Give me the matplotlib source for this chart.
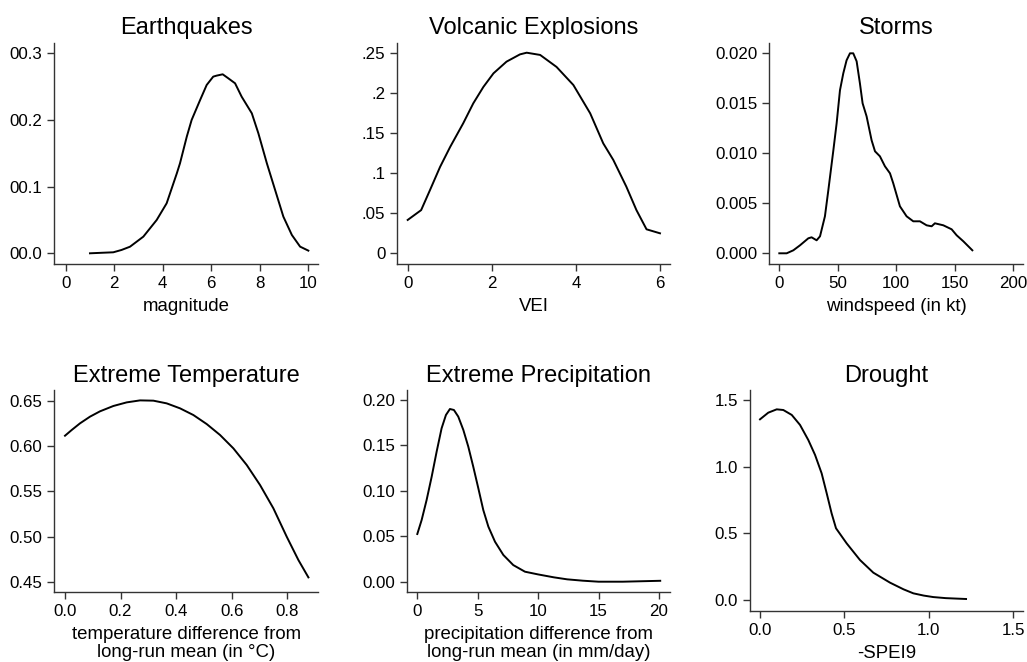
import matplotlib
matplotlib.use("Agg")
import matplotlib.pyplot as plt

plt.rcParams['font.family'] = ['Liberation Sans', 'DejaVu Sans']

# Earthquakes
eq_x = [1.0, 1.5, 1.96, 2.3, 2.65, 3.2, 3.75, 4.16, 4.58, 4.71, 4.99, 5.19, 5.54, 5.81, 6.08, 6.22, 6.47, 6.7, 6.98, 7.25, 7.67, 7.94, 8.29, 8.63, 8.97, 9.32, 9.66, 10.0]
eq_y = [0.0, 0.0008, 0.0015, 0.005, 0.0099, 0.025, 0.05, 0.075, 0.12, 0.135, 0.175, 0.2, 0.23, 0.2525, 0.265, 0.2665, 0.2685, 0.2625, 0.255, 0.235, 0.21, 0.18, 0.135, 0.095, 0.055, 0.0275, 0.01, 0.004]

# Volcanic explosions
vei_x = [0.0, 0.32, 0.53, 0.77, 1.01, 1.32, 1.56, 1.8, 2.04, 2.35, 2.67, 2.83, 3.15, 3.54, 3.94, 4.34, 4.65, 4.89, 5.2, 5.44, 5.68, 6.0]
vei_y = [0.0417, 0.054, 0.079, 0.108, 0.133, 0.1625, 0.1875, 0.208, 0.225, 0.2396, 0.2487, 0.2508, 0.248, 0.233, 0.2104, 0.175, 0.1375, 0.1167, 0.0833, 0.054, 0.03, 0.025]

# Storms
st_x = [0, 6.3, 12, 17.7, 24.8, 27.6, 31.9, 34.8, 39, 41.9, 46.2, 49, 51.85, 54.7, 57.5, 60.4, 63.2, 66.1, 68.9, 71.2, 74.6, 78.9, 81.8, 86, 90.3, 94.6, 97.4, 103.1, 108.8, 114.5, 120.2, 125.9, 130.2, 133, 140.2, 147.3, 151.6, 157.3, 165]
st_y = [0, 0, 0.0003, 0.0008, 0.0015, 0.0016, 0.0013, 0.0017, 0.0037, 0.0063, 0.0103, 0.013, 0.0163, 0.018, 0.0193, 0.02, 0.02, 0.0192, 0.017, 0.015, 0.0137, 0.0113, 0.0102, 0.0097, 0.0087, 0.008, 0.007, 0.0047, 0.0037, 0.0032, 0.0032, 0.0028, 0.0027, 0.003, 0.0028, 0.0024, 0.0018, 0.0012, 0.0003]

# Extreme temperature
tp_x = [0, 0.024, 0.054, 0.09, 0.126, 0.174, 0.222, 0.27, 0.318, 0.366, 0.414, 0.462, 0.51, 0.558, 0.606, 0.654, 0.702, 0.75, 0.798, 0.84, 0.876]
tp_y = [0.6116, 0.6179, 0.6253, 0.6327, 0.6386, 0.6445, 0.6485, 0.6507, 0.6504, 0.6474, 0.6419, 0.6345, 0.6245, 0.6124, 0.5976, 0.5792, 0.557, 0.5312, 0.4998, 0.474, 0.4548]

# Extreme precipitation
pr_x = [0, 0.36, 0.77, 1.19, 1.6, 2.01, 2.37, 2.7, 3.03, 3.39, 3.81, 4.22, 4.63, 5.05, 5.46, 5.88, 6.43, 7.12, 7.94, 8.91, 10.0, 11.3, 12.4, 13.7, 15, 17, 20.1]
pr_y = [0.0525, 0.0679, 0.0899, 0.1156, 0.1431, 0.1688, 0.1835, 0.1901, 0.189, 0.1817, 0.167, 0.1486, 0.1266, 0.1028, 0.0789, 0.0606, 0.044, 0.0294, 0.0183, 0.011, 0.008, 0.0048, 0.0026, 0.0011, 0.0, 0.0, 0.001]

# Drought
dr_x = [0, 0.049, 0.099, 0.138, 0.188, 0.237, 0.286, 0.326, 0.365, 0.395, 0.424, 0.45, 0.513, 0.592, 0.671, 0.77, 0.85, 0.908, 0.97, 1.026, 1.1, 1.22]
dr_y = [1.355, 1.405, 1.43, 1.425, 1.388, 1.313, 1.2, 1.088, 0.95, 0.8, 0.65, 0.538, 0.425, 0.3, 0.205, 0.13, 0.08, 0.05, 0.033, 0.022, 0.014, 0.0075]

panels = [
    dict(title="Earthquakes", x=eq_x, y=eq_y, xlabel="magnitude",
         xticks=[0, 2, 4, 6, 8, 10], xtl=["0", "2", "4", "6", "8", "10"],
         yticks=[0, 0.1, 0.2, 0.3], ytl=["00.0", "00.1", "00.2", "00.3"],
         box=(54.3, 318.3, 42.7, 264.3), xlim=(-0.47, 10.41), ylim=(-0.0165, 0.3159)),
    dict(title="Volcanic Explosions", x=vei_x, y=vei_y, xlabel="VEI",
         xticks=[0, 2, 4, 6], xtl=["0", "2", "4", "6"],
         yticks=[0, 0.05, 0.1, 0.15, 0.2, 0.25], ytl=["0", ".05", ".1", ".15", ".2", ".25"],
         box=(397.3, 670, 42.7, 264.3), xlim=(-0.247, 6.238), ylim=(-0.01375, 0.2633)),
    dict(title="Storms", x=st_x, y=st_y, xlabel="windspeed (in kt)",
         xticks=[0, 50, 100, 150, 200], xtl=["0", "50", "100", "150", "200"],
         yticks=[0, 0.005, 0.01, 0.015, 0.02], ytl=["0.000", "0.005", "0.010", "0.015", "0.020"],
         box=(769.3, 1023, 42.7, 264.3), xlim=(-8.55, 208.3), ylim=(-0.0011, 0.02106)),
    dict(title="Extreme Temperature", x=tp_x, y=tp_y, xlabel="temperature difference from\nlong-run mean (in \u00b0C)",
         xticks=[0, 0.2, 0.4, 0.6, 0.8], xtl=["0.0", "0.2", "0.4", "0.6", "0.8"],
         yticks=[0.45, 0.5, 0.55, 0.6, 0.65], ytl=["0.45", "0.50", "0.55", "0.60", "0.65"],
         box=(54.3, 318.3, 390, 592.3), xlim=(-0.0385, 0.9116), ylim=(0.4383, 0.6622)),
    dict(title="Extreme Precipitation", x=pr_x, y=pr_y, xlabel="precipitation difference from\nlong-run mean (in mm/day)",
         xticks=[0, 5, 10, 15, 20], xtl=["0", "5", "10", "15", "20"],
         yticks=[0, 0.05, 0.1, 0.15, 0.2], ytl=["0.00", "0.05", "0.10", "0.15", "0.20"],
         box=(406.7, 670, 390, 592.3), xlim=(-0.877, 20.91), ylim=(-0.01167, 0.211)),
    dict(title="Drought", x=dr_x, y=dr_y, xlabel="-SPEI9",
         xticks=[0, 0.5, 1.0, 1.5], xtl=["0.0", "0.5", "1.0", "1.5"],
         yticks=[0, 0.5, 1.0, 1.5], ytl=["0.0", "0.5", "1.0", "1.5"],
         box=(750, 1023.3, 390, 611), xlim=(-0.0592, 1.559), ylim=(-0.0825, 1.575)),
]

W, H = 1027, 662
fig = plt.figure(figsize=(W / 100, H / 100), dpi=100)

for p in panels:
    l, r, t, b = p["box"]
    ax = fig.add_axes([l / W, 1 - b / H, (r - l) / W, (b - t) / H])
    ax.plot(p["x"], p["y"], color="black", lw=1.4)
    ax.set_xlim(p["xlim"])
    ax.set_ylim(p["ylim"])
    ax.set_xticks(p["xticks"])
    ax.set_xticklabels(p["xtl"])
    ax.set_yticks(p["yticks"])
    ax.set_yticklabels(p["ytl"])
    for s in ["top", "right"]:
        ax.spines[s].set_visible(False)
    for s in ["left", "bottom"]:
        ax.spines[s].set_color("#333333")
        ax.spines[s].set_linewidth(1.0)
    ax.tick_params(length=5, width=1.0, color="#333333", labelsize=12.2, pad=3.5)
    ax.set_title(p["title"], fontsize=17, pad=6)
    ax.set_xlabel(p["xlabel"], fontsize=13.4, labelpad=5, linespacing=1.05)

fig.savefig("out.png", dpi=100, facecolor="white")
